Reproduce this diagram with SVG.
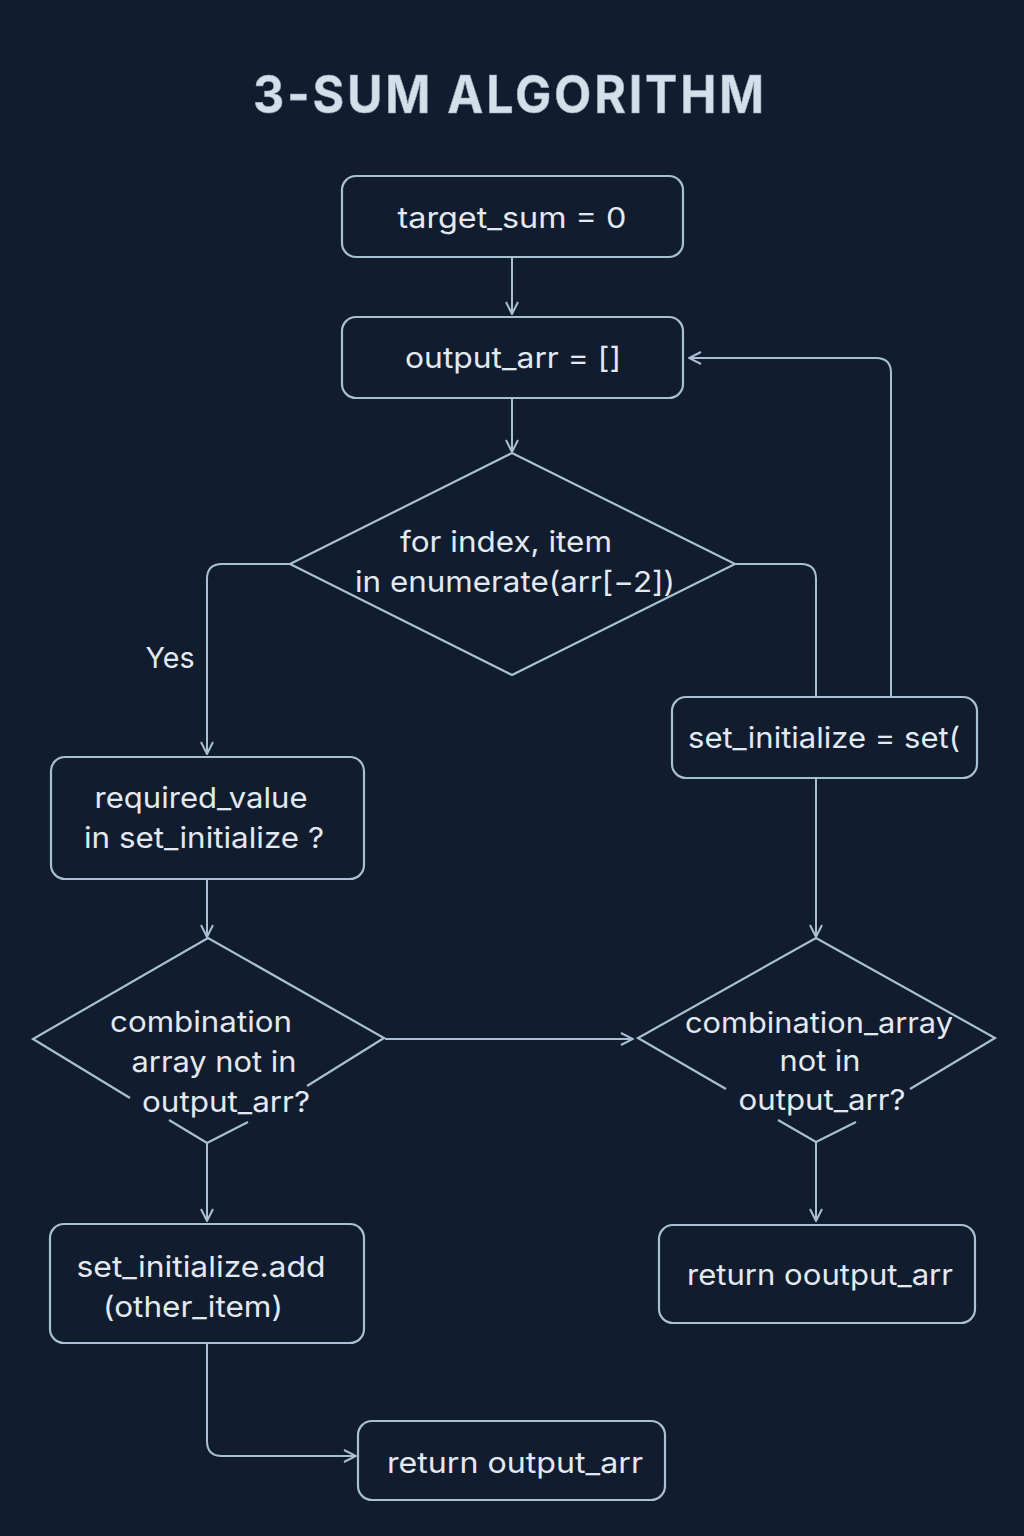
<svg xmlns="http://www.w3.org/2000/svg" width="1024" height="1536" viewBox="0 0 1024 1536">
<defs>
<marker id="arr" viewBox="0 0 14 14" refX="13" refY="7" markerWidth="14" markerHeight="14" markerUnits="userSpaceOnUse" orient="auto">
<path d="M1,1 L13,7 L1,13" fill="none" stroke="#a9c0d4" stroke-width="2"/>
</marker>
<style>
.box{fill:none;stroke:#a9c0d4;stroke-width:2.2}
.ln{fill:none;stroke:#a9c0d4;stroke-width:2}
.t{font-family:Inter,"Noto Sans","Liberation Sans",sans-serif;font-size:29px;fill:#e2e9f0;text-anchor:middle}
.title{font-family:Inter,"Liberation Sans",sans-serif;font-size:52px;font-weight:700;fill:#d3e0ea;stroke:#8fa3b6;stroke-width:0.6;letter-spacing:3px;text-anchor:middle}
</style>
</defs>
<rect width="1024" height="1536" fill="#111c2e"/>
<text class="title" x="510" y="113" textLength="514" lengthAdjust="spacingAndGlyphs">3-SUM ALGORITHM</text>

<g id="connectors">
<path class="ln" d="M512,258 V314" marker-end="url(#arr)"/>
<path class="ln" d="M512,399 V452" marker-end="url(#arr)"/>
<path class="ln" d="M290,564 H222 Q207,564 207,579 V754" marker-end="url(#arr)"/>
<path class="ln" d="M735,564 H801 Q816,564 816,579 V697"/>
<path class="ln" d="M891,697 V373 Q891,358 876,358 H689" marker-end="url(#arr)"/>
<path class="ln" d="M816,778 V937" marker-end="url(#arr)"/>
<path class="ln" d="M207,880 V937" marker-end="url(#arr)"/>
<path class="ln" d="M385,1039 H633" marker-end="url(#arr)"/>
<path class="ln" d="M207,1143 V1221" marker-end="url(#arr)"/>
<path class="ln" d="M816,1142 V1221" marker-end="url(#arr)"/>
<path class="ln" d="M207,1344 V1441 Q207,1456 222,1456 H356" marker-end="url(#arr)"/>
<text class="t" x="170" y="668" textLength="49" lengthAdjust="spacingAndGlyphs">Yes</text>
</g>

<g id="n1">
<rect class="box" x="342" y="176" width="341" height="81" rx="14"/>
<text class="t" x="512" y="228" textLength="229" lengthAdjust="spacingAndGlyphs">target_sum = 0</text>
</g>
<g id="n2">
<rect class="box" x="342" y="317" width="341" height="81" rx="14"/>
<text class="t" x="513" y="368" textLength="216" lengthAdjust="spacingAndGlyphs">output_arr = []</text>
</g>
<g id="n3">
<polygon class="box" points="512,453 735,564 512,675 290,564"/>
<text class="t" x="506" y="552" textLength="212" lengthAdjust="spacingAndGlyphs">for index, item</text>
<text class="t" x="515" y="592" textLength="320" lengthAdjust="spacingAndGlyphs">in enumerate(arr[−2])</text>
</g>
<g id="n4">
<rect class="box" x="672" y="697" width="305" height="81" rx="14"/>
<text class="t" x="824" y="748" textLength="272" lengthAdjust="spacingAndGlyphs">set_initialize = set(</text>
</g>
<g id="n5">
<rect class="box" x="51" y="757" width="313" height="122" rx="14"/>
<text class="t" x="201" y="808" textLength="213" lengthAdjust="spacingAndGlyphs">required_value</text>
<text class="t" x="204" y="848" textLength="240" lengthAdjust="spacingAndGlyphs">in set_initialize ?</text>
</g>
<g id="n6">
<path class="box" d="M130,1098 L33,1039 L208,938 L384,1038 L307,1086 M248,1122 L207,1143 L169,1120"/>
<text class="t" x="201" y="1032" textLength="182" lengthAdjust="spacingAndGlyphs">combination</text>
<text class="t" x="214" y="1072" textLength="165" lengthAdjust="spacingAndGlyphs">array not in</text>
<text class="t" x="226" y="1112" textLength="168" lengthAdjust="spacingAndGlyphs">output_arr?</text>
</g>
<g id="n7">
<path class="box" d="M726,1089 L638,1038 L816,938 L995,1038 L910,1089 M856,1122 L816,1142 L778,1120"/>
<text class="t" x="819" y="1033" textLength="268" lengthAdjust="spacingAndGlyphs">combination_array</text>
<text class="t" x="820" y="1071" textLength="81" lengthAdjust="spacingAndGlyphs">not in</text>
<text class="t" x="822" y="1110" textLength="167" lengthAdjust="spacingAndGlyphs">output_arr?</text>
</g>
<g id="n8">
<rect class="box" x="50" y="1224" width="314" height="119" rx="14"/>
<text class="t" x="201" y="1277" textLength="249" lengthAdjust="spacingAndGlyphs">set_initialize.add</text>
<text class="t" x="193" y="1317" textLength="180" lengthAdjust="spacingAndGlyphs">(other_item)</text>
</g>
<g id="n9">
<rect class="box" x="659" y="1225" width="316" height="98" rx="14"/>
<text class="t" x="820" y="1285" textLength="266" lengthAdjust="spacingAndGlyphs">return ooutput_arr</text>
</g>
<g id="n10">
<rect class="box" x="358" y="1421" width="307" height="79" rx="14"/>
<text class="t" x="515" y="1473" textLength="256" lengthAdjust="spacingAndGlyphs">return output_arr</text>
</g>
</svg>
